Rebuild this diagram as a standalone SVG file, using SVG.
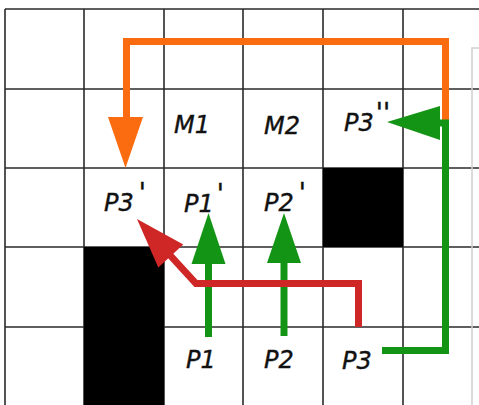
<svg xmlns="http://www.w3.org/2000/svg" width="479" height="405" viewBox="0 0 479 405">
  <style>
    .grid { stroke: #2a2a2a; stroke-width: 1.6; fill: none; }
    .block { fill: #000; }
    .panel { fill: none; stroke: #cfcfcf; stroke-width: 1.5; }
    .line { fill: none; stroke-width: 7; stroke-linejoin: miter; stroke-linecap: butt; }
    .orange { stroke: #fb6b10; }
    .orange-head { fill: #fb6b10; }
    .green { stroke: #149414; }
    .green-head { fill: #149414; }
    .red { stroke: #cf2626; }
    .red-head { fill: #cf2626; }
    .label { font-family: "DejaVu Sans", "Liberation Sans", sans-serif; font-style: italic; font-size: 24px; fill: #111; stroke: #111; stroke-width: 0.4; }
    .prime { font-size: 26px; }
  </style>

  <rect x="0" y="0" width="479" height="405" fill="#fff"/>

  <!-- grid -->
  <g id="grid" class="grid">
    <line x1="5" y1="9" x2="479" y2="9"/>
    <line x1="5" y1="89" x2="479" y2="89"/>
    <line x1="5" y1="168" x2="479" y2="168"/>
    <line x1="5" y1="247" x2="479" y2="247"/>
    <line x1="5" y1="327" x2="479" y2="327"/>
    <line x1="5" y1="9" x2="5" y2="405"/>
    <line x1="84" y1="9" x2="84" y2="405"/>
    <line x1="164" y1="9" x2="164" y2="405"/>
    <line x1="243" y1="9" x2="243" y2="405"/>
    <line x1="323" y1="9" x2="323" y2="405"/>
    <line x1="403" y1="9" x2="403" y2="405"/>
  </g>
  <rect class="panel" x="472" y="48" width="20" height="370"/>

  <!-- blocked cells -->
  <g id="obstacles">
    <rect class="block" x="84" y="247" width="80" height="158"/>
    <rect class="block" x="323" y="168" width="80" height="79"/>
  </g>

  <!-- moves -->
  <g id="connectors">
    <g id="move-p3-top">
      <path class="line orange" d="M445.5,124 V41.5 H126.5 V118"/>
      <polygon class="orange-head" points="108,117 143,117 125.5,168"/>
    </g>
    <g id="move-p3-right">
      <path class="line green" d="M382,350.5 H445.5 V123 H436"/>
      <polygon class="green-head" points="440,106 440,140 387,122"/>
    </g>
    <g id="move-p1">
      <line class="line green" x1="208.5" y1="337" x2="208.5" y2="262"/>
      <polygon class="green-head" points="191.5,264 225.5,264 208.5,213"/>
    </g>
    <g id="move-p2">
      <line class="line green" x1="284" y1="336" x2="284" y2="261"/>
      <polygon class="green-head" points="267,263 301,263 284,213"/>
    </g>
    <g id="move-p3-left">
      <path class="line red" d="M358.5,327 V283.5 H196 L168,253"/>
      <polygon class="red-head" points="137,219 183.3,244.4 158.3,267.4"/>
    </g>
  </g>

  <!-- labels -->
  <g id="m1"><text class="label" x="174" y="133">M1</text></g>
  <g id="m2"><text class="label" x="264" y="134">M2</text></g>
  <g id="p3pp"><text class="label" x="344" y="131">P3<tspan class="prime" dx="2" dy="-9">''</tspan></text></g>
  <g id="p3p"><text class="label" x="104" y="211">P3<tspan class="prime" dx="5" dy="-9">'</tspan></text></g>
  <g id="p1p"><text class="label" x="184" y="212">P1<tspan class="prime" dx="3" dy="-9">'</tspan></text></g>
  <g id="p2p"><text class="label" x="264" y="211">P2<tspan class="prime" dx="5" dy="-9">'</tspan></text></g>
  <g id="p1"><text class="label" x="186" y="368">P1</text></g>
  <g id="p2"><text class="label" x="264" y="368">P2</text></g>
  <g id="p3"><text class="label" x="342" y="369">P3</text></g>
</svg>
